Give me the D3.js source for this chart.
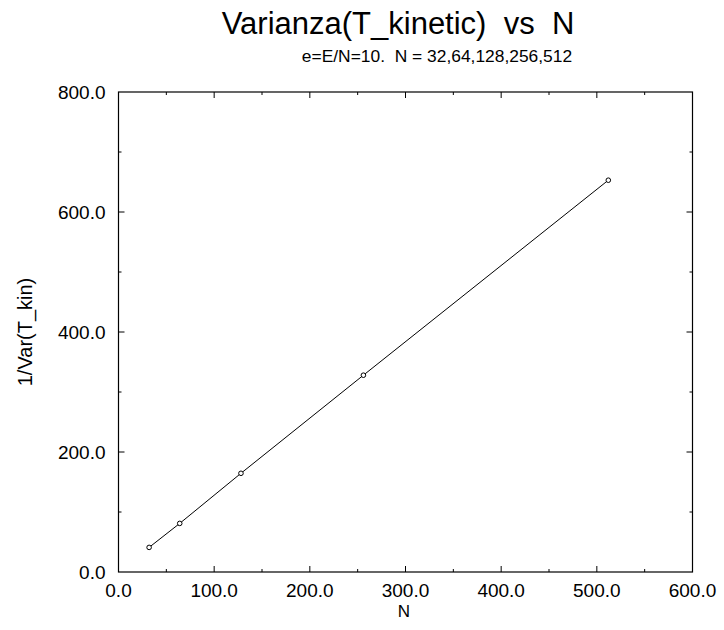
<!DOCTYPE html>
<html>
<head>
<meta charset="utf-8">
<script src="https://cdn.jsdelivr.net/npm/d3@7"></script>
<style>
  body { margin: 0; background: #fff; }
  text { font-family: "Liberation Sans", Arial, sans-serif; fill: #000; }
</style>
</head>
<body>
<script>
var width = 724
var height = 630

// data
var nValues = [32, 64, 128, 256, 512]
var invVar = [41, 81, 164.5, 328, 653]

var xMajor = [0, 100, 200, 300, 400, 500, 600]
var yMajor = [0, 200, 400, 600, 800]

var margin = {left: 118.5, right: 31.5, top: 92, bottom: 58}

var svg = d3.select("body").append("svg")
    .attr("width", width)
    .attr("height", height)

var x = d3.scaleLinear().domain([0, 600]).range([margin.left, width - margin.right])
var y = d3.scaleLinear().domain([0, 800]).range([height - margin.bottom, margin.top])

var x0 = x(0), x1 = x(600), y0 = y(0), y1 = y(800)

// frame
svg.append("rect")
    .attr("x", x0).attr("y", y1)
    .attr("width", x1 - x0).attr("height", y0 - y1)
    .attr("fill", "none").attr("stroke", "#000").attr("stroke-width", 1.2)

// inward ticks on all sides, major + minor
var xMinor = d3.range(50, 600, 100)
var yMinor = d3.range(100, 800, 200)

function ticks(vals, len) {
    vals.forEach(function(v) {
        svg.append("line").attr("x1", x(v)).attr("x2", x(v)).attr("y1", y0).attr("y2", y0 - len).attr("stroke", "#000")
        svg.append("line").attr("x1", x(v)).attr("x2", x(v)).attr("y1", y1).attr("y2", y1 + len).attr("stroke", "#000")
    })
}
function yticks(vals, len) {
    vals.forEach(function(v) {
        svg.append("line").attr("y1", y(v)).attr("y2", y(v)).attr("x1", x0).attr("x2", x0 + len).attr("stroke", "#000")
        svg.append("line").attr("y1", y(v)).attr("y2", y(v)).attr("x1", x1).attr("x2", x1 - len).attr("stroke", "#000")
    })
}
ticks(xMajor.slice(1, -1), 6)
ticks(xMinor, 3)
yticks(yMajor.slice(1, -1), 6)
yticks(yMinor, 3)

// tick labels
svg.selectAll(".xl").data(xMajor).enter().append("text")
    .attr("x", function(d) { return x(d) })
    .attr("y", y0 + 25)
    .attr("text-anchor", "middle")
    .style("font-size", "19px")
    .text(function(d) { return d3.format(".1f")(d) })

svg.selectAll(".yl").data(yMajor).enter().append("text")
    .attr("x", x0 - 13)
    .attr("y", function(d) { return y(d) + 7 })
    .attr("text-anchor", "end")
    .style("font-size", "19px")
    .text(function(d) { return d3.format(".1f")(d) })

// axis titles
svg.append("text")
    .attr("x", 404).attr("y", 617)
    .attr("text-anchor", "middle")
    .style("font-size", "17px")
    .text("N")

svg.append("text")
    .attr("transform", "translate(32," + ((y0 + y1) / 2) + ") rotate(-90)")
    .attr("text-anchor", "middle")
    .style("font-size", "20px")
    .text("1/Var(T_kin)")

// titles
svg.append("text")
    .attr("x", 398).attr("y", 34)
    .attr("text-anchor", "middle")
    .style("font-size", "31px")
    .style("white-space", "pre")
    .text("Varianza(T_kinetic)  vs  N")

svg.append("text")
    .attr("x", 437).attr("y", 62)
    .attr("text-anchor", "middle")
    .style("font-size", "17.4px")
    .style("white-space", "pre")
    .text("e=E/N=10.  N = 32,64,128,256,512")

// series
var pts = nValues.map(function(n, i) { return [n, invVar[i]] })

svg.append("path")
    .datum(pts)
    .attr("fill", "none")
    .attr("stroke", "#000")
    .attr("stroke-width", 1)
    .attr("d", d3.line().x(function(d) { return x(d[0]) }).y(function(d) { return y(d[1]) }))

svg.selectAll(".pt").data(pts).enter().append("circle")
    .attr("cx", function(d) { return x(d[0]) })
    .attr("cy", function(d) { return y(d[1]) })
    .attr("r", 2.3)
    .attr("fill", "#fff")
    .attr("stroke", "#000")
    .attr("stroke-width", 1)
</script>
</body>
</html>
